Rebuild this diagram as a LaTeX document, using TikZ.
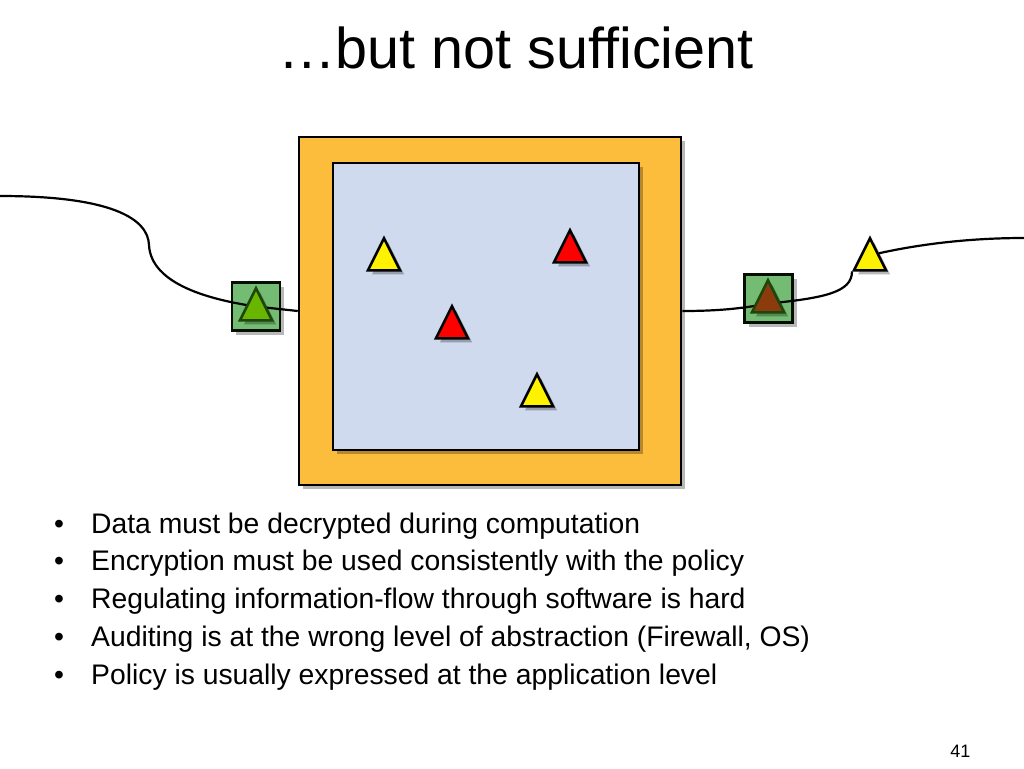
\documentclass[tikz,border=0pt]{standalone}
\usepackage{fontspec}
\setmainfont{Liberation Sans}
\usetikzlibrary{positioning,shapes.geometric,shadows}
\definecolor{cageorange}{RGB}{253,189,60}
\definecolor{cageblue}{RGB}{208,218,238}
\definecolor{gategreen}{RGB}{116,188,116}
\definecolor{tgreen}{RGB}{104,182,0}
\definecolor{tbrown}{RGB}{140,60,12}
\definecolor{tedge}{RGB}{28,70,10}
\pgfdeclarelayer{back}
\pgfdeclarelayer{front}
\pgfsetlayers{back,main,front}
\tikzset{softshadow/.style={drop shadow={shadow xshift=4pt, shadow yshift=-4pt, opacity=0.28, fill=black}},
cagebox/.style={rectangle, draw=black, line width=2.5pt, inner sep=0pt, softshadow},
gatebox/.style={rectangle, draw=black!80!tedge, fill=gategreen, line width=2.5pt, minimum size=48pt, inner sep=0pt, softshadow},
datatri/.style={isosceles triangle, shape border rotate=90, isosceles triangle stretches, minimum width=32pt, minimum height=32pt, inner sep=0pt, draw=black, line width=2.5pt, anchor=lower side, softshadow},
wire/.style={line width=2.2pt, black},
bullet/.style={anchor=base west, inner sep=0pt, font=\fontsize{28.3}{34}\selectfont},}

\begin{document}
\begin{tikzpicture}[x=1pt, y=-1pt]
\useasboundingbox (0,0) rectangle (1024,768);
\node [font=\fontsize{57.5}{70}\selectfont, anchor=base] (title) at (516,68) {…but not sufficient};

\begin{pgfonlayer}{back}
\node [cagebox, fill=cageorange, minimum width=382pt, minimum height=348pt] (cage) at (490,311) {};
\node [cagebox, fill=cageblue, minimum width=306pt, minimum height=287pt] (inner) at (486,306.5) {};
\node [gatebox] (lgate) at (256,306.5) {};
\node [gatebox] (rgate) at (768.5,298.5) {};
\end{pgfonlayer}

\begin{pgfonlayer}{front}
\node [datatri, fill=yellow] (y1) at (384,271.5) {};
\node [datatri, fill=red] (r1) at (570,263.5) {};
\node [datatri, fill=red] (r2) at (452,339.5) {};
\node [datatri, fill=yellow] (y2) at (537,407.5) {};
\node [datatri, fill=tgreen, draw=tedge] (lt) at (256,321.5) {};
\node [datatri, fill=tbrown, draw=tedge] (rt) at (768,313.5) {};
\node [datatri, fill=yellow] (yout) at (870,271.5) {};
\end{pgfonlayer}

\coordinate (wl) at (0,196);
\coordinate (wr) at (1024,238);
\draw[wire] (wl) .. controls (110,196) and (148,218) .. (149,245) .. controls (151,285) and (212,300) .. (lgate.center) -- (cage.west);
\draw[wire] (cage.east) .. controls (715,311) and (740,309) .. ([yshift=-5pt]rgate.center) .. controls (825,298) and (852,292) .. (yout.left corner);
\draw[wire] (yout.right side) .. controls (930,242) and (980,238) .. (wr);

\node [bullet] (p1) at (54,533) {\makebox[37pt][l]{•}Data must be decrypted during computation};
\node [bullet] (p2) at ([yshift=-37.75pt]p1.base west) {\makebox[37pt][l]{•}Encryption must be used consistently with the policy};
\node [bullet] (p3) at ([yshift=-37.75pt]p2.base west) {\makebox[37pt][l]{•}Regulating information-flow through software is hard};
\node [bullet] (p4) at ([yshift=-37.75pt]p3.base west) {\makebox[37pt][l]{•}Auditing is at the wrong level of abstraction (Firewall, OS)};
\node [bullet] (p5) at ([yshift=-37.75pt]p4.base west) {\makebox[37pt][l]{•}Policy is usually expressed at the application level};
\node [font=\fontsize{18}{20}\selectfont, anchor=base east] (pageno) at (974,757) {41};
\end{tikzpicture}
\end{document}
